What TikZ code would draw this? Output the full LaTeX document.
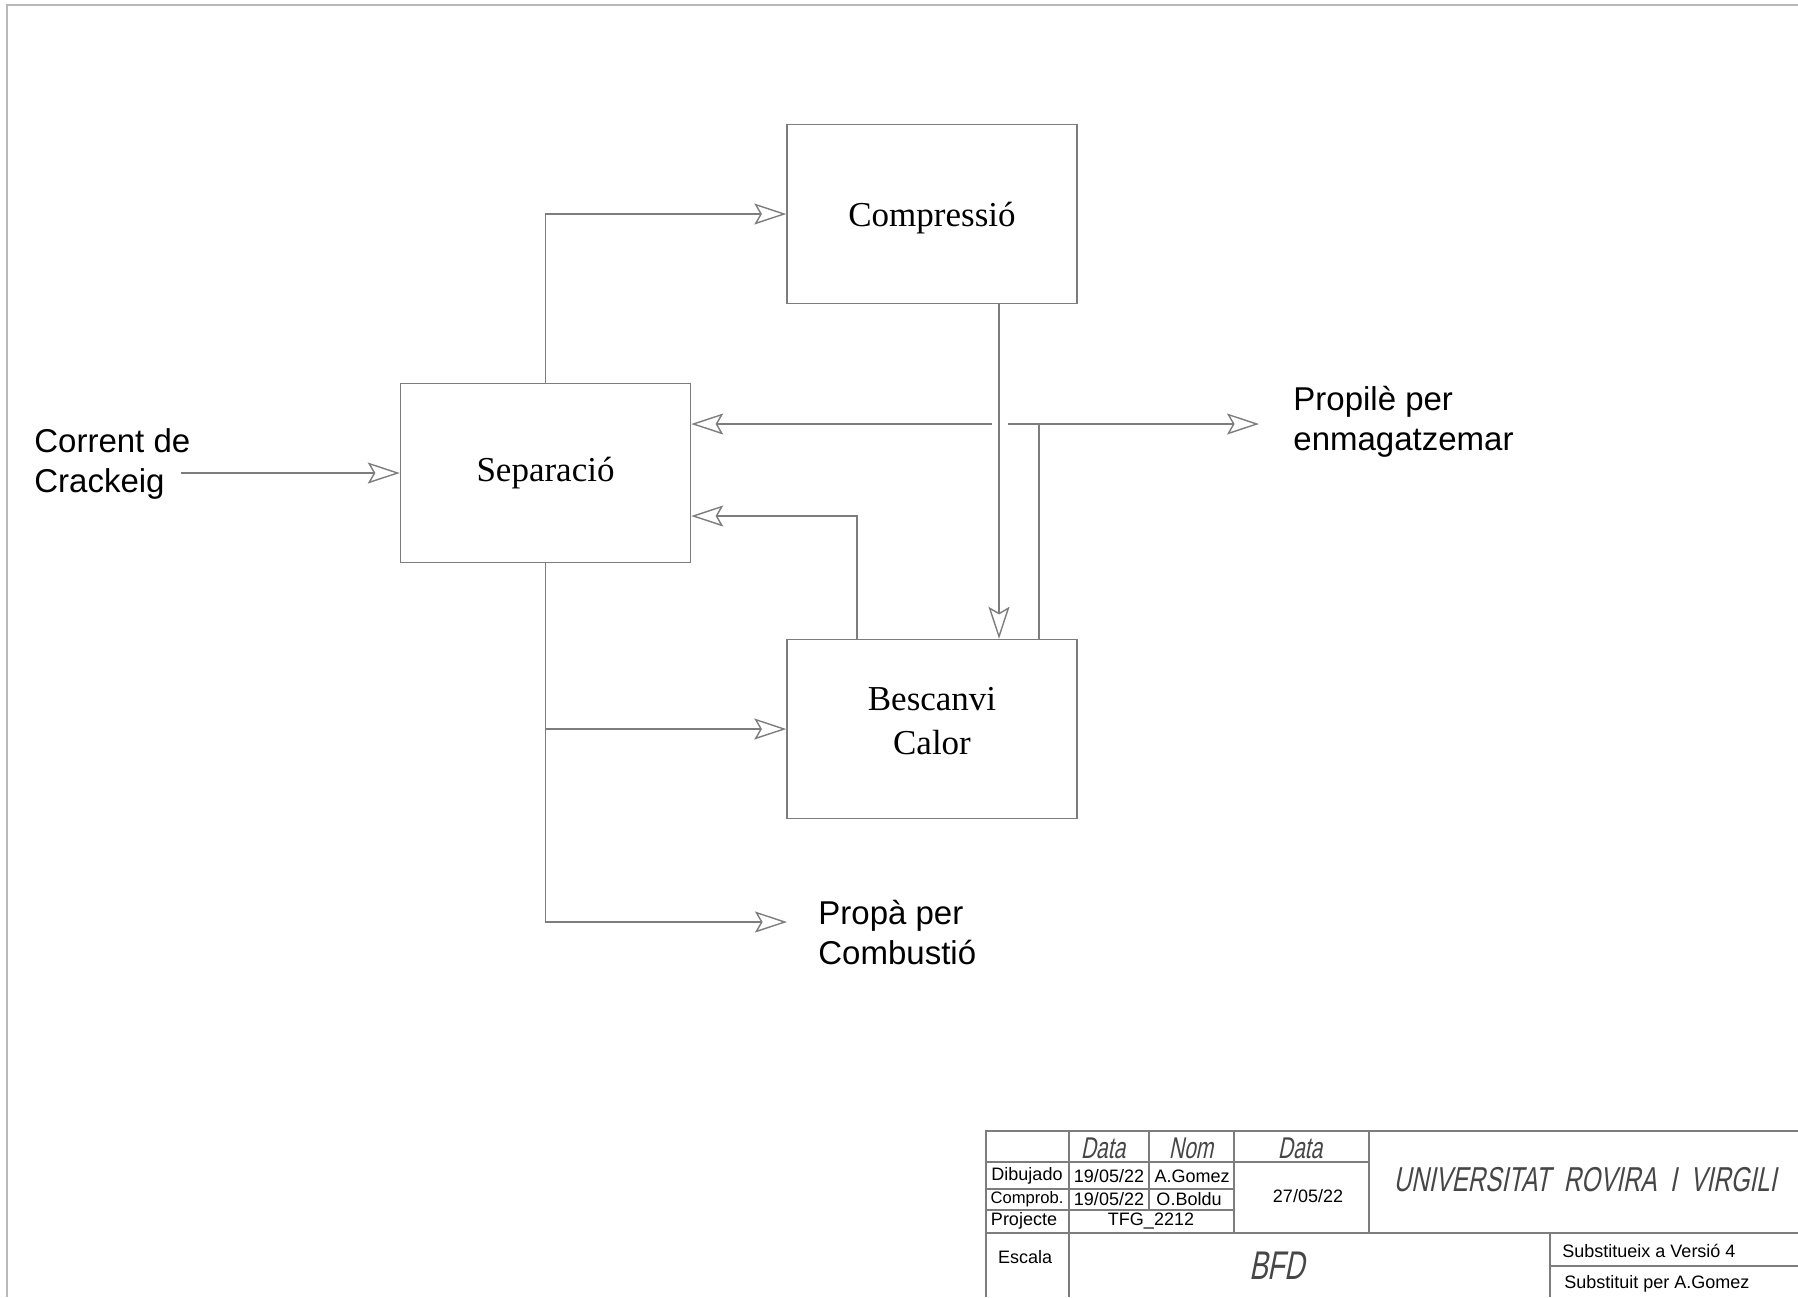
\documentclass[tikz,border=0pt]{standalone}
\usepackage{fontspec}
\setmainfont{Liberation Serif}
\newfontfamily\arial{Liberation Sans}
\newfontfamily\iso[FakeSlant=0.2,FakeStretch=0.7]{Liberation Sans}
\usetikzlibrary{arrows.meta,calc}
\definecolor{lncol}{RGB}{125,125,125}
\definecolor{isocol}{RGB}{70,70,70}
\begin{document}
\begin{tikzpicture}[x=0.5pt,y=-0.5pt,
  wire/.style={draw=lncol,line width=0.7pt},
  flow/.style={wire,-{Stealth[open,length=16pt,width=10.5pt,inset=3pt]}},
  blk/.style={draw=lncol,line width=0.7pt,minimum width=145pt,minimum height=89.5pt,
    inner sep=0pt,align=center,font=\fontsize{17.5}{22}\selectfont},
  lab/.style={font=\arial\fontsize{16.5}{20}\selectfont,align=left,anchor=west,inner sep=0pt},
  tbl/.style={draw=lncol,line width=0.7pt},
  tb/.style={font=\arial\fontsize{9}{10}\selectfont,inner sep=0pt},
  isot/.style={font=\iso\fontsize{15}{16}\selectfont,text=isocol,inner sep=0pt}]
\useasboundingbox (0,0) rectangle (1798,1297);
% page border
\draw[draw=gray!55,line width=1.1pt] (7,1297) -- (7,5) -- (1798,5);

% blocks
\node[blk] (sep) at (545.5,473) {Separació};
\node[blk] (comp) at (932,214) {\raisebox{-1.8pt}[\height][\depth]{Compressió}};
\node[blk] (besc) at (932,729) {\raisebox{2.6pt}[\height][\depth]{\begin{tabular}{@{}c@{}}Bescanvi\\Calor\end{tabular}}};

% labels
\node[lab] (corr) at (34,464) {Corrent de\\Crackeig};
\node[lab] (prop) at (1293,422) {Propilè per\\enmagatzemar};
\node[lab] (propa) at (818,932) {Propà per\\Combustió};

% coordinates
\coordinate (in) at (181,473);
\coordinate (dx) at (999,0);
\coordinate (rx) at (1039,424);
\coordinate (gapR) at (1008,424);
\coordinate (gapL) at (992,424);
\coordinate (pout) at (1259,424);
\coordinate (lx) at (857,516);
\coordinate (pa) at (787,922);

% connectors
\draw[flow] (in) -- (sep.west);
\draw[flow] (sep.north) |- (comp.west);
\draw[flow] (comp.south -| dx) -- (besc.north -| dx);
\draw[wire] (besc.north -| rx) -- (rx) -- (gapR);
\draw[flow] (gapL) -- (gapL -| sep.east);
\draw[flow] (rx) -- (pout);
\draw[flow] (besc.north -| lx) |- (sep.east |- lx);
\draw[flow] (sep.south) |- (pa);
\draw[flow] (sep.south |- besc.west) -- (besc.west);

% title block
\draw[tbl] (986,1297) -- (986,1131) -- (1798,1131);
\draw[tbl] (986,1233) -- (1798,1233);
\draw[tbl] (1069,1131) -- (1069,1297);
\draw[tbl] (1149,1131) -- (1149,1210);
\draw[tbl] (1234,1131) -- (1234,1233);
\draw[tbl] (1369,1131) -- (1369,1233);
\draw[tbl] (986,1162) -- (1369,1162);
\draw[tbl] (986,1189) -- (1234,1189);
\draw[tbl] (986,1210) -- (1234,1210);
\draw[tbl] (1550,1233) -- (1550,1297);
\draw[tbl] (1550,1266) -- (1798,1266);

\node[isot] (h1) at (1103,1148) {Data};
\node[isot] (h2) at (1191,1148) {Nom};
\node[isot] (h3) at (1300,1148) {Data};
\node[tb] (t1) at (1027,1176) {Dibujado};
\node[tb] (t2) at (1109,1176) {19/05/22};
\node[tb] (t3) at (1192,1176) {A.Gomez};
\node[tb,font=\arial\fontsize{8.3}{10}\selectfont] (t4) at (1027,1199) {Comprob.};
\node[tb] (t5) at (1109,1199) {19/05/22};
\node[tb] (t6) at (1189,1199) {O.Boldu};
\node[tb] (t7) at (1024,1221) {Projecte};
\node[tb] (t8) at (1151,1221) {TFG\_2212};
\node[tb] (t9) at (1308,1196) {27/05/22};
\node[isot,font=\iso\fontsize{17.3}{20}\selectfont] (uni) at (1585,1180) {UNIVERSITAT\ \ ROVIRA\ \ I\ \ VIRGILI};
\node[tb] (t10) at (1025,1257) {Escala};
\node[isot,font=\iso\fontsize{20}{22}\selectfont] (bfd) at (1277,1266) {BFD};
\node[tb,anchor=west] (t11) at (1562,1251) {Substitueix a Versió 4};
\node[tb,anchor=west] (t12) at (1564,1284) {Substituit per A.Gomez};
\end{tikzpicture}
\end{document}
